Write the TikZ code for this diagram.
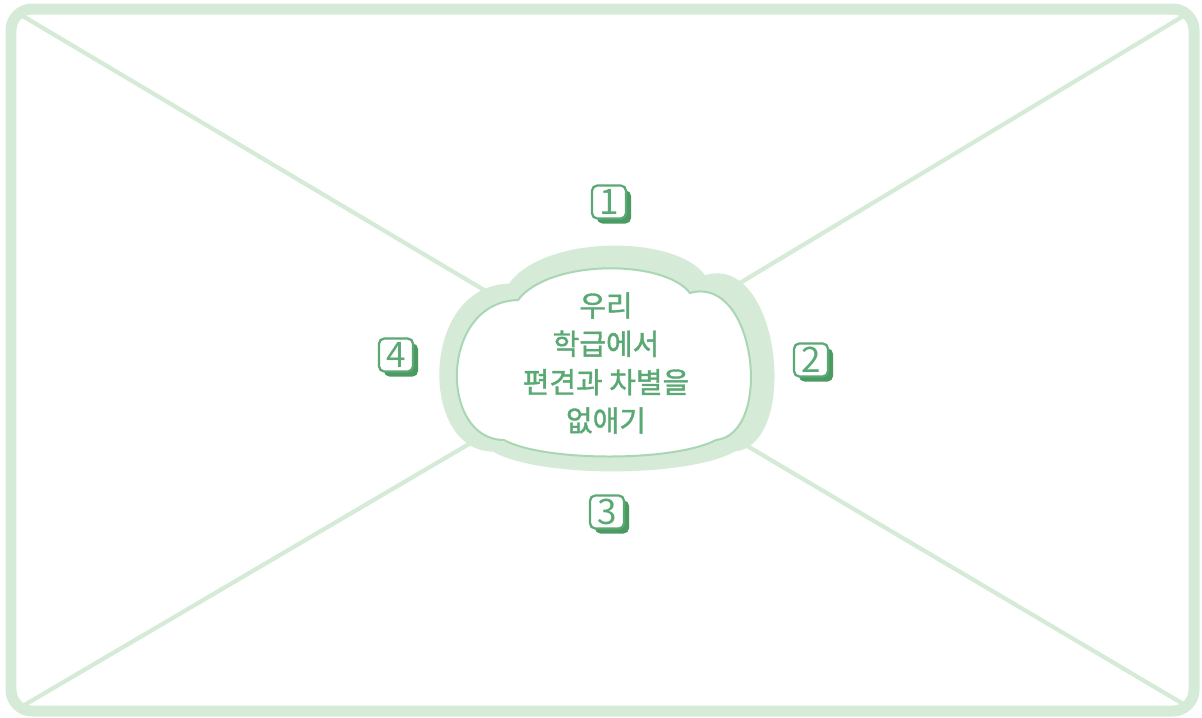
\documentclass[tikz,border=0pt]{standalone}
\usepackage{fontspec}
\setmainfont{Noto Sans CJK KR}
\newfontfamily\titlefont{Noto Sans CJK KR}[FakeBold=1.3]
\usepackage{tikz}
\usetikzlibrary{shadows}
\usepackage{xcolor}
\definecolor{framegreen}{HTML}{D5EBD7}
\definecolor{cloudline}{HTML}{A9D6B3}
\definecolor{txtgreen}{HTML}{5AA874}
\definecolor{shadegreen}{HTML}{4A9A62}

% cloud outline, drawn round (0,0), in pixel units
\newcommand\cloudpath{(-86,-62) .. controls (-55,-103) and (60,-103) .. (86,-69)
  .. controls (152,-88) and (170,72) .. (112,78)
  .. controls (70,100) and (-60,100) .. (-100,78)
  .. controls (-165,78) and (-165,-60) .. (-86,-62) -- cycle}

\begin{document}
\begin{tikzpicture}[x=0.02cm, y=-0.02cm,
  diag/.style={draw=framegreen, line width=0.085cm},
  numbox/.style={draw=txtgreen, line width=0.045cm, fill=white, rounded corners=3pt,
                 minimum width=0.68cm, minimum height=0.66cm, inner sep=0pt,
                 text=txtgreen, font=\fontsize{20}{20}\selectfont,
                 drop shadow={fill=shadegreen, opacity=1, shadow xshift=0.1cm, shadow yshift=-0.1cm}}]
  \useasboundingbox (0,0) rectangle (1202,717);
  % frame
  \draw[framegreen, line width=0.22cm, rounded corners=12pt] (11,9) rectangle (1194,711);
  \coordinate (tl) at (21,15);
  \coordinate (tr) at (1185,15);
  \coordinate (bl) at (21,707);
  \coordinate (br) at (1185,705);
  \coordinate (mid) at (607,363);
  \draw[diag] (tl) -- (mid);
  \draw[diag] (tr) -- (mid);
  \draw[diag] (bl) -- (mid);
  \draw[diag] (br) -- (mid);
  % cloud
  \begin{scope}[shift={(607,358)}, xscale=1.14, yscale=1.2]
    \fill[framegreen] \cloudpath;
  \end{scope}
  \begin{scope}[shift={(604,362)}]
    \draw[cloudline, fill=white, line width=0.04cm] \cloudpath;
  \end{scope}
  \node[font=\titlefont\fontsize{16.5}{21.8}\selectfont, text=txtgreen, align=center] (title) at (606,363)
    {우리\\학급에서\\편견과 차별을\\없애기};
  % numbers
  \node[numbox] (n1) at (609,202) {1};
  \node[numbox] (n2) at (811,360) {2};
  \node[numbox] (n3) at (607,512) {3};
  \node[numbox] (n4) at (396,355) {4};
\end{tikzpicture}
\end{document}
